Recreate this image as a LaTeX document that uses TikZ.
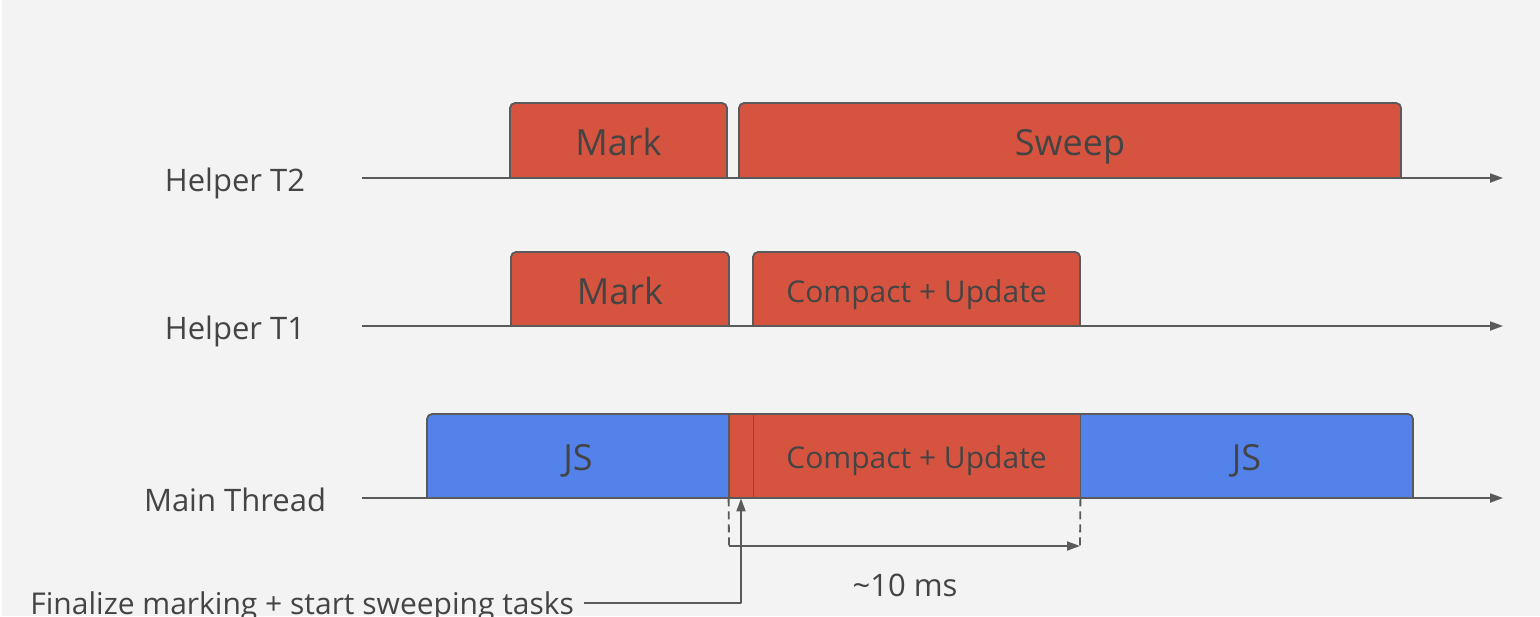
\documentclass[tikz,border=0pt]{standalone}
\usepackage{fontspec}
\setmainfont{Open Sans}
\usetikzlibrary{arrows.meta}
\definecolor{taskred}{HTML}{D6543F}
\definecolor{jsblue}{HTML}{5482EB}
\definecolor{edgegray}{HTML}{5A5A5A}
\definecolor{textgray}{HTML}{444444}
\definecolor{paper}{HTML}{F3F3F3}
\begin{document}
\begin{tikzpicture}[x=0.5pt, y=-0.5pt, line join=round,
    boxline/.style={draw=edgegray, line width=0.9pt},
    axis/.style={draw=edgegray, line width=0.9pt, -{Triangle[length=6.5pt, width=4.5pt]}},
    tasktext/.style={text=textgray, inner sep=0pt, anchor=base},
    labeltext/.style={text=textgray, font=\fontsize{15.5}{18}\selectfont, anchor=base}]
	\useasboundingbox (0,0) rectangle (1540,616);
	\fill[paper] (2,0) rectangle (1540,616);
	% Thread labels and time axes
	\foreach \name/\y/\txt in {t2/178/Helper T2, t1/326/Helper T1, main/498/Main Thread}
		{
		\node [labeltext] (\name-label) at (235, \y+13) {\txt};
		\coordinate (\name-start) at (362, \y);
		\coordinate (\name-end) at (1503, \y);
		\draw [axis] (\name-start) -- (\name-end);
		}
	% Helper thread tasks
	\foreach \name/\xa/\xb/\ya/\yb/\fs/\txt in {mark-2/510/727/103/178/18/Mark, sweep-2/739/1401/103/178/18/Sweep, mark-1/511/729/252/326/18/Mark, compact-1/753/1080/252/326/15/{Compact + Update}}
		{
		\filldraw [boxline, fill=taskred] (\xa,\yb) [rounded corners=2.5pt] -- (\xa,\ya) -- (\xb,\ya) [sharp corners] -- (\xb,\yb) -- cycle;
		\node [tasktext, font=\fontsize{\fs}{\fs}\selectfont] (\name) at ({(\xa+\xb)/2}, {(\ya+\yb)/2+2.5+0.714*\fs}) {\txt};
		}
	% Main thread tasks
	\fill [jsblue] (427,498) [rounded corners=2.5pt] -- (427,414) -- (1413,414) [sharp corners] -- (1413,498) -- cycle;
	\fill [taskred] (729,414) rectangle (1080,498);
	\draw [boxline] (427,498) [rounded corners=2.5pt] -- (427,414) -- (1413,414) [sharp corners] -- (1413,498) -- cycle;
	\node [tasktext, font=\fontsize{18}{18}\selectfont] (js-1) at (578,470) {JS};
	\node [inner sep=0pt, minimum width=12pt, minimum height=42pt] (finalize-0) at (741,456) {};
	\node [inner sep=0pt, minimum width=163.5pt, minimum height=42pt] (compact-box) at (916.5,456) {};
	\node [tasktext, font=\fontsize{15}{15}\selectfont] (compact-0) at (916.5,468) {Compact + Update};
	\node [tasktext, font=\fontsize{18}{18}\selectfont] (js-2) at (1246.5,470) {JS};
	\draw [boxline] (finalize-0.north west) -- (finalize-0.south west);
	\draw [boxline] (finalize-0.north east) -- (finalize-0.south east);
	\draw [boxline] (compact-box.north east) -- (compact-box.south east);
	% Duration marker
	\coordinate (ms-start) at (729,546);
	\coordinate (ms-end) at (1080,546);
	\draw [boxline, dash pattern=on 4pt off 2.5pt] (finalize-0.south west) -- (ms-start);
	\draw [boxline, dash pattern=on 4pt off 2.5pt] (compact-box.south east) -- (ms-end);
	\draw [axis] (ms-start) -- (ms-end);
	\node [labeltext] (ms) at (905,596) {\textasciitilde10 ms};
	% Finalize pointer
	\node [labeltext, font=\fontsize{15}{18}\selectfont, anchor=base west, inner sep=0pt] (finalize) at (30,614) {Finalize marking + start sweeping tasks};
	\path (finalize.east |- 0,603) ++(5pt,0) coordinate (finalize-tail);
	\draw [axis] (finalize-tail) -| (finalize-0.south);
\end{tikzpicture}
\end{document}
